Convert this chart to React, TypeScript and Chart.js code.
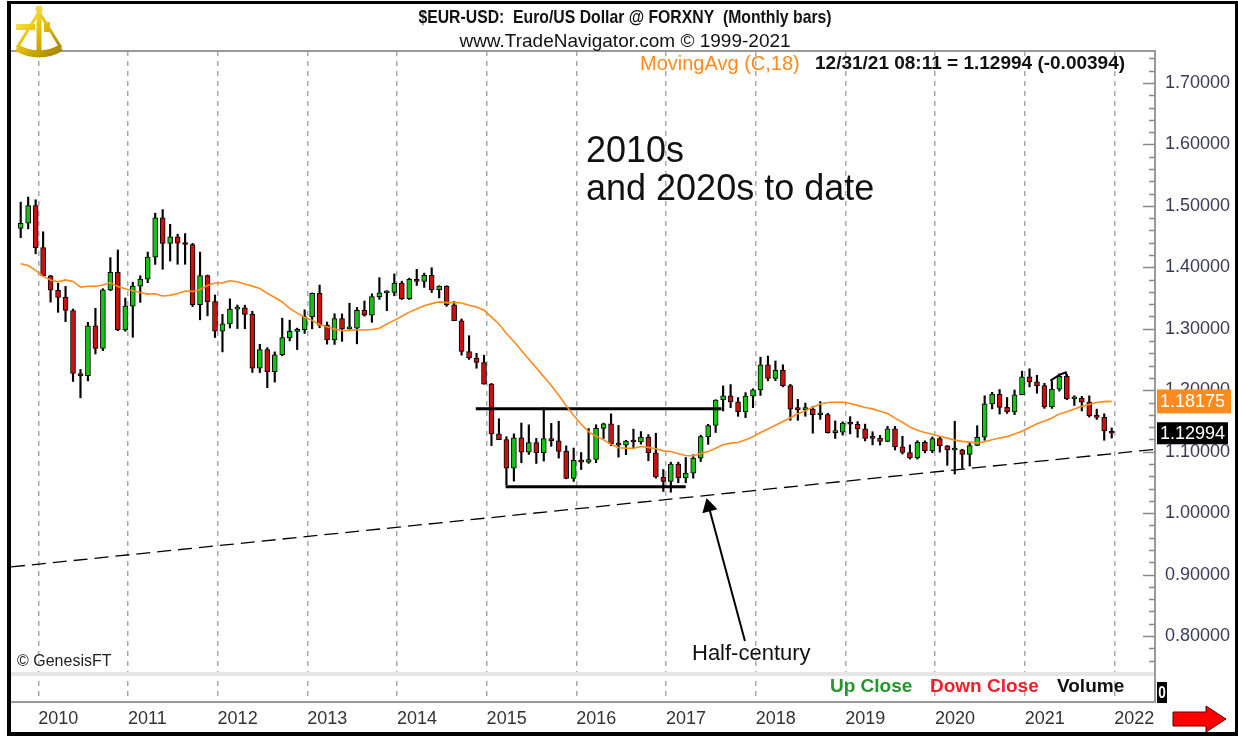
import React, { useEffect, useRef } from 'react';
import { Chart, registerables } from 'chart.js';

Chart.register(...registerables);

// Monthly bars, index 0 = Oct 2009 ... index 146 = Dec 2021
const opens = [
  1.4633, 1.4718, 1.5006,
  1.4321, 1.3862, 1.3627, 1.3510, 1.3298, 1.2272, 1.2236, 1.3049, 1.2679, 1.3632, 1.3920, 1.2981,
  1.3368, 1.3694, 1.3807, 1.4165, 1.4806, 1.4390, 1.4496, 1.4394, 1.4372, 1.3391, 1.3865, 1.3441,
  1.2961, 1.3079, 1.3320, 1.3342, 1.3234, 1.2360, 1.2663, 1.2302, 1.2577, 1.2857, 1.2958, 1.2986,
  1.3193, 1.3577, 1.3059, 1.2819, 1.3166, 1.2999, 1.3009, 1.3300, 1.3223, 1.3524, 1.3583, 1.3592,
  1.3743, 1.3490, 1.3805, 1.3769, 1.3868, 1.3638, 1.3693, 1.3389, 1.3131, 1.2630, 1.2525, 1.2451,
  1.2100, 1.1289, 1.1196, 1.0731, 1.1224, 1.0990, 1.1146, 1.0984, 1.1213, 1.1176, 1.1004, 1.0565,
  1.0859, 1.0831, 1.0873, 1.1379, 1.1452, 1.1130, 1.1106, 1.1174, 1.1157, 1.1237, 1.0982, 1.0587,
  1.0517, 1.0799, 1.0573, 1.0652, 1.0895, 1.1244, 1.1426, 1.1841, 1.1910, 1.1813, 1.1646, 1.1903,
  1.2005, 1.2414, 1.2194, 1.2324, 1.2076, 1.1693, 1.1684, 1.1692, 1.1601, 1.1604, 1.1311, 1.1317,
  1.1467, 1.1446, 1.1372, 1.1217, 1.1216, 1.1168, 1.1373, 1.1077, 1.0987, 1.0898, 1.1152, 1.1017,
  1.1213, 1.1093, 1.1027, 1.1031, 1.0954, 1.1100, 1.1234, 1.1779, 1.1936, 1.1720, 1.1647, 1.1927,
  1.2216, 1.2136, 1.2075, 1.1730, 1.2019, 1.2228, 1.1858, 1.1869, 1.1807, 1.1580, 1.1558, 1.1337,
];
const highs = [
  1.5061, 1.5144, 1.5100,
  1.4579, 1.3870, 1.3739, 1.3690, 1.3321, 1.2338, 1.3105, 1.3334, 1.3652, 1.4158, 1.4283, 1.3500,
  1.3758, 1.3863, 1.4249, 1.4882, 1.4940, 1.4700, 1.4540, 1.4550, 1.4390, 1.4248, 1.3874, 1.3549,
  1.3235, 1.3487, 1.3387, 1.3383, 1.3284, 1.2747, 1.2692, 1.2624, 1.3172, 1.3140, 1.3011, 1.3308,
  1.3583, 1.3711, 1.3110, 1.3244, 1.3243, 1.3416, 1.3346, 1.3452, 1.3569, 1.3832, 1.3620, 1.3893,
  1.3775, 1.3824, 1.3967, 1.3906, 1.3993, 1.3700, 1.3700, 1.3444, 1.3159, 1.2887, 1.2600, 1.2570,
  1.2111, 1.1535, 1.1244, 1.1290, 1.1467, 1.1436, 1.1216, 1.1714, 1.1460, 1.1495, 1.1094, 1.1059,
  1.0986, 1.1376, 1.1438, 1.1464, 1.1616, 1.1427, 1.1185, 1.1366, 1.1327, 1.1278, 1.1300, 1.0710,
  1.0829, 1.0829, 1.0906, 1.0950, 1.1268, 1.1445, 1.1846, 1.2070, 1.2092, 1.1880, 1.1961, 1.2023,
  1.2537, 1.2556, 1.2476, 1.2414, 1.2095, 1.1852, 1.1791, 1.1734, 1.1815, 1.1625, 1.1500, 1.1486,
  1.1570, 1.1489, 1.1448, 1.1324, 1.1265, 1.1412, 1.1412, 1.1250, 1.1109, 1.1179, 1.1176, 1.1240,
  1.1240, 1.1100, 1.1495, 1.1040, 1.1147, 1.1422, 1.1909, 1.1966, 1.2011, 1.1881, 1.2004, 1.2310,
  1.2349, 1.2243, 1.2113, 1.2150, 1.2266, 1.2254, 1.1909, 1.1900, 1.1909, 1.1692, 1.1616, 1.1386,
];
const lows = [
  1.4482, 1.4626, 1.4220,
  1.3855, 1.3435, 1.3268, 1.3116, 1.2143, 1.1876, 1.2153, 1.2589, 1.2645, 1.3620, 1.2969, 1.2960,
  1.2862, 1.3430, 1.3750, 1.4048, 1.3968, 1.4102, 1.4050, 1.4050, 1.3361, 1.3146, 1.3211, 1.2858,
  1.2624, 1.3012, 1.3004, 1.3001, 1.2289, 1.2288, 1.2041, 1.2132, 1.2560, 1.2803, 1.2661, 1.2925,
  1.2998, 1.3017, 1.2750, 1.2745, 1.2796, 1.2993, 1.2755, 1.3205, 1.3105, 1.3479, 1.3295, 1.3537,
  1.3477, 1.3476, 1.3705, 1.3673, 1.3590, 1.3503, 1.3366, 1.3130, 1.2571, 1.2501, 1.2358, 1.2098,
  1.1098, 1.1195, 1.0458, 1.0521, 1.0819, 1.0955, 1.0808, 1.0848, 1.1087, 1.0895, 1.0558, 1.0516,
  1.0710, 1.0810, 1.0822, 1.1216, 1.1098, 1.0911, 1.0952, 1.1046, 1.1122, 1.0852, 1.0569, 1.0352,
  1.0340, 1.0494, 1.0494, 1.0568, 1.0839, 1.1118, 1.1312, 1.1662, 1.1717, 1.1575, 1.1554, 1.1717,
  1.1916, 1.2154, 1.2155, 1.2054, 1.1510, 1.1509, 1.1576, 1.1301, 1.1526, 1.1302, 1.1216, 1.1269,
  1.1289, 1.1234, 1.1176, 1.1110, 1.1107, 1.1160, 1.1027, 1.0962, 1.0879, 1.0879, 1.0981, 1.0982,
  1.0992, 1.0778, 1.0636, 1.0727, 1.0766, 1.1098, 1.1185, 1.1696, 1.1612, 1.1622, 1.1603, 1.1925,
  1.2054, 1.1952, 1.1704, 1.1704, 1.1986, 1.1847, 1.1752, 1.1664, 1.1563, 1.1524, 1.1186, 1.1222,
];
const closes = [
  1.4718, 1.5006, 1.4321,
  1.3862, 1.3627, 1.3510, 1.3298, 1.2272, 1.2236, 1.3049, 1.2679, 1.3632, 1.3920, 1.2981, 1.3368,
  1.3694, 1.3807, 1.4165, 1.4806, 1.4390, 1.4496, 1.4394, 1.4372, 1.3391, 1.3865, 1.3441, 1.2961,
  1.3079, 1.3320, 1.3342, 1.3234, 1.2360, 1.2663, 1.2302, 1.2577, 1.2857, 1.2958, 1.2986, 1.3193,
  1.3577, 1.3059, 1.2819, 1.3166, 1.2999, 1.3009, 1.3300, 1.3223, 1.3524, 1.3583, 1.3592, 1.3743,
  1.3490, 1.3805, 1.3769, 1.3868, 1.3638, 1.3693, 1.3389, 1.3131, 1.2630, 1.2525, 1.2451, 1.2100,
  1.1289, 1.1196, 1.0731, 1.1224, 1.0990, 1.1146, 1.0984, 1.1213, 1.1176, 1.1004, 1.0565, 1.0859,
  1.0831, 1.0873, 1.1379, 1.1452, 1.1130, 1.1106, 1.1174, 1.1157, 1.1237, 1.0982, 1.0587, 1.0517,
  1.0799, 1.0573, 1.0652, 1.0895, 1.1244, 1.1426, 1.1841, 1.1910, 1.1813, 1.1646, 1.1903, 1.2005,
  1.2414, 1.2194, 1.2324, 1.2076, 1.1693, 1.1684, 1.1692, 1.1601, 1.1604, 1.1311, 1.1317, 1.1467,
  1.1446, 1.1372, 1.1217, 1.1216, 1.1168, 1.1373, 1.1077, 1.0987, 1.0898, 1.1152, 1.1017, 1.1213,
  1.1093, 1.1027, 1.1031, 1.0954, 1.1100, 1.1234, 1.1779, 1.1936, 1.1720, 1.1647, 1.1927, 1.2216,
  1.2136, 1.2075, 1.1730, 1.2019, 1.2228, 1.1858, 1.1869, 1.1807, 1.1580, 1.1558, 1.1337, 1.1299,
];
// MovingAvg (C,18) as drawn
const movingAvg = [
  1.4059, 1.4029, 1.3950,
  1.3853, 1.3795, 1.3763, 1.3795, 1.3771, 1.3678, 1.3691, 1.3692, 1.3713, 1.3752, 1.3686, 1.3650,
  1.3619, 1.3590, 1.3564, 1.3569, 1.3534, 1.3544, 1.3574, 1.3615, 1.3608, 1.3640, 1.3705, 1.3745,
  1.3747, 1.3782, 1.3766, 1.3728, 1.3694, 1.3654, 1.3577, 1.3509, 1.3436, 1.3333, 1.3255, 1.3183,
  1.3138, 1.3065, 1.3033, 1.2994, 1.2970, 1.2972, 1.2984, 1.2979, 1.2989, 1.3009, 1.3077, 1.3137,
  1.3203, 1.3271, 1.3322, 1.3373, 1.3409, 1.3437, 1.3426, 1.3430, 1.3420, 1.3384, 1.3354, 1.3303,
  1.3191, 1.3079, 1.2924, 1.2792, 1.2648, 1.2504, 1.2364, 1.2220, 1.2076, 1.1917, 1.1746, 1.1589,
  1.1447, 1.1322, 1.1252, 1.1192, 1.1119, 1.1064, 1.1057, 1.1055, 1.1083, 1.1070, 1.1048, 1.1013,
  1.1002, 1.0967, 1.0938, 1.0932, 1.0969, 1.1001, 1.1057, 1.1114, 1.1139, 1.1149, 1.1192, 1.1242,
  1.1311, 1.1369, 1.1429, 1.1490, 1.1551, 1.1616, 1.1666, 1.1723, 1.1776, 1.1799, 1.1803, 1.1805,
  1.1783, 1.1753, 1.1720, 1.1696, 1.1656, 1.1620, 1.1546, 1.1479, 1.1400, 1.1349, 1.1311, 1.1285,
  1.1252, 1.1220, 1.1188, 1.1168, 1.1156, 1.1143, 1.1162, 1.1193, 1.1221, 1.1245, 1.1287, 1.1334,
  1.1393, 1.1453, 1.1499, 1.1547, 1.1615, 1.1651, 1.1694, 1.1737, 1.1768, 1.1801, 1.1814, 1.1818,
];

const yearLabels = ['2010', '2011', '2012', '2013', '2014', '2015', '2016', '2017', '2018', '2019', '2020', '2021', '2022'];
const yearBoundaries = [2.35, 14.35, 26.35, 38.35, 50.35, 62.35, 74.35, 86.35, 98.35, 110.35, 122.35, 134.35, 146.35];
const priceTicks = [0.8, 0.9, 1.0, 1.1, 1.2, 1.3, 1.4, 1.5, 1.6, 1.7];

// drawn annotations (bar index, price)
const upperBox = [{ x: 60.9, y: 1.17 }, { x: 93.8, y: 1.17 }];
const lowerBox = [{ x: 64.9, y: 1.043 }, { x: 89.0, y: 1.043 }];
const halfCenturyLine = [{ x: -1.3, y: 0.9124 }, { x: 151.8, y: 1.1038 }];
const arrowLine = [{ x: 96.92, y: 0.7918 }, { x: 92.08, y: 1.0102 }];
const hookLine = [{ x: 137.8, y: 1.2155 }, { x: 139.0, y: 1.225 }, { x: 139.85, y: 1.229 }, { x: 140.0, y: 1.223 }];

const lastMA = 1.18175;
const lastClose = 1.12994;

const FONT = "'Liberation Sans', Arial, Helvetica, sans-serif";
const UP = '#14c414';
const DOWN = '#cc1010';
const ORANGE = '#ff8a1e';

const X_MIN = -1.2981;
const X_MAX = 151.795;
const Y_MAX = 1.75208;
const Y_MIN = 0.69258;

function text(ctx: CanvasRenderingContext2D, s: string, x: number, y: number, font: string, color: string, align: CanvasTextAlign = 'left', sx = 1) {
  ctx.save();
  ctx.font = font;
  ctx.fillStyle = color;
  ctx.textBaseline = 'middle';
  ctx.textAlign = align;
  ctx.translate(x, y);
  ctx.scale(sx, 1);
  ctx.fillText(s, 0, 0);
  ctx.restore();
}

function drawLogo(ctx: CanvasRenderingContext2D) {
  ctx.save();
  const g = ctx.createLinearGradient(15, 6, 62, 58);
  g.addColorStop(0, '#fff4a0');
  g.addColorStop(0.45, '#e8c300');
  g.addColorStop(1, '#9c7a00');
  ctx.strokeStyle = g;
  ctx.fillStyle = g;
  const cx = 39, cy = 12, r = 42, a = 0.55;
  ctx.lineWidth = 7;
  ctx.beginPath();
  ctx.arc(cx, cy, r, Math.PI / 2 - a, Math.PI / 2 + a);
  ctx.stroke();
  ctx.lineWidth = 3;
  ctx.beginPath();
  ctx.moveTo(cx, cy);
  ctx.lineTo(cx + r * Math.cos(Math.PI / 2 - a), cy + r * Math.sin(Math.PI / 2 - a));
  ctx.moveTo(cx, cy);
  ctx.lineTo(cx + r * Math.cos(Math.PI / 2 + a), cy + r * Math.sin(Math.PI / 2 + a));
  ctx.stroke();
  ctx.lineWidth = 5;
  ctx.beginPath();
  ctx.moveTo(cx, 9);
  ctx.lineTo(cx, 56);
  ctx.stroke();
  ctx.beginPath();
  ctx.arc(cx, 9, 3.5, 0, Math.PI * 2);
  ctx.fill();
  ctx.fillRect(16, 24, 19, 6);
  ctx.fillRect(44, 22, 6, 10);
  ctx.restore();
}

const overlayPlugin = {
  id: 'tnOverlay',
  afterDraw(chart: any) {
    const { ctx } = chart;
    const ys = chart.scales.y;
    const area = chart.chartArea;
    ctx.save();

    // volume pane separator
    ctx.fillStyle = '#e6e6e6';
    ctx.fillRect(area.left, 672, area.right - area.left, 4);

    // pane frame
    ctx.strokeStyle = '#9a9a9a';
    ctx.lineWidth = 2;
    ctx.beginPath();
    ctx.moveTo(area.left, area.top);
    ctx.lineTo(area.right, area.top);
    ctx.lineTo(area.right, area.bottom);
    ctx.lineTo(area.left, area.bottom);
    ctx.stroke();

    // price axis tick marks
    ctx.strokeStyle = '#8a8a8a';
    ctx.lineWidth = 1.5;
    for (let k = 38; k <= 87; k++) {
      const v = k * 0.02;
      const py = Math.round(ys.getPixelForValue(v)) + 0.5;
      const len = k % 5 === 0 ? 12 : 6;
      ctx.beginPath();
      ctx.moveTo(area.right - len, py);
      ctx.lineTo(area.right, py);
      ctx.stroke();
    }

    // header texts
    text(ctx, '$EUR-USD:  Euro/US Dollar @ FORXNY  (Monthly bars)', 625, 18, `bold 19px ${FONT}`, '#111', 'center', 0.83);
    text(ctx, 'www.TradeNavigator.com \u00A9 1999-2021', 625, 42, `19px ${FONT}`, '#111', 'center');
    text(ctx, 'MovingAvg (C,18)', 640, 64, `20px ${FONT}`, ORANGE, 'left');
    text(ctx, '12/31/21 08:11 = 1.12994 (-0.00394)', 815, 64, `bold 19px ${FONT}`, '#111', 'left');

    // annotations
    text(ctx, '2010s', 586, 152, `36px ${FONT}`, '#111', 'left');
    text(ctx, 'and 2020s to date', 586, 190, `36px ${FONT}`, '#111', 'left');
    text(ctx, 'Half-century', 692, 654, `22px ${FONT}`, '#111', 'left');
    text(ctx, '\u00A9 GenesisFT', 17, 662, `16px ${FONT}`, '#222', 'left');

    // volume pane legend
    text(ctx, 'Up Close', 830, 687, `bold 19px ${FONT}`, '#22962a', 'left');
    text(ctx, 'Down Close', 930, 687, `bold 19px ${FONT}`, '#f0202a', 'left');
    text(ctx, 'Volume', 1057, 687, `bold 19px ${FONT}`, '#111', 'left');
    ctx.fillStyle = '#000';
    ctx.fillRect(1157, 682, 10, 21);
    text(ctx, '0', 1162, 693, `bold 17px ${FONT}`, '#fff', 'center', 0.8);

    // value badges
    const maY = ys.getPixelForValue(lastMA);
    ctx.fillStyle = ORANGE;
    ctx.fillRect(1157, maY - 12, 74, 24);
    text(ctx, lastMA.toFixed(5), 1160, maY + 1, `18px ${FONT}`, '#fff', 'left');
    const cY = ys.getPixelForValue(lastClose);
    ctx.fillStyle = '#000';
    ctx.fillRect(1157, cY - 11, 71, 22);
    text(ctx, lastClose.toFixed(5), 1160, cY + 1, `18px ${FONT}`, '#fff', 'left');

    // red arrow
    ctx.fillStyle = '#ff0000';
    ctx.strokeStyle = '#5a0000';
    ctx.lineWidth = 1;
    ctx.beginPath();
    ctx.moveTo(1173, 712);
    ctx.lineTo(1206, 712);
    ctx.lineTo(1206, 706);
    ctx.lineTo(1226, 719);
    ctx.lineTo(1206, 732);
    ctx.lineTo(1206, 726);
    ctx.lineTo(1173, 726);
    ctx.closePath();
    ctx.fill();
    ctx.stroke();

    // outer frame
    ctx.fillStyle = '#000';
    ctx.fillRect(7, 1, 4, 735);
    ctx.fillRect(7, 1, 1231, 3);
    ctx.fillRect(1235, 1, 3, 735);
    ctx.fillRect(7, 732, 1231, 4);

    drawLogo(ctx);
    ctx.restore();
  },
};

export default function App() {
  const ref = useRef<HTMLCanvasElement | null>(null);

  useEffect(() => {
    document.body.style.margin = '0';
    document.body.style.background = '#fff';
    const canvas = ref.current;
    if (!canvas) return;

    const idx = closes.map((_, i) => i);
    const bodyColors = idx.map((i) => (closes[i] >= opens[i] ? UP : DOWN));

    const chart = new Chart(canvas, {
      type: 'bar',
      data: {
        datasets: [
          {
            type: 'line',
            label: 'MovingAvg',
            data: idx.map((i) => ({ x: i, y: movingAvg[i] })),
            borderColor: ORANGE,
            borderWidth: 1.6,
            pointRadius: 0,
            tension: 0,
            order: 0,
          },
          {
            type: 'line',
            label: 'upper',
            data: upperBox,
            borderColor: '#000',
            borderWidth: 3,
            pointRadius: 0,
            order: 0,
          },
          {
            type: 'line',
            label: 'lower',
            data: lowerBox,
            borderColor: '#000',
            borderWidth: 3,
            pointRadius: 0,
            order: 0,
          },
          {
            type: 'line',
            label: 'halfCentury',
            data: halfCenturyLine,
            borderColor: '#000',
            borderWidth: 1.3,
            borderDash: [14, 7],
            pointRadius: 0,
            order: 0,
          },
          {
            type: 'line',
            label: 'hook',
            data: hookLine,
            borderColor: '#000',
            borderWidth: 2,
            pointRadius: 0,
            order: 0,
          },
          {
            type: 'line',
            label: 'arrow',
            data: arrowLine,
            borderColor: '#000',
            borderWidth: 2,
            pointRadius: [0, 7],
            pointStyle: 'triangle',
            pointRotation: [0, -14.7],
            pointBackgroundColor: '#000',
            pointBorderColor: '#000',
            order: 0,
          },
          {
            type: 'bar',
            label: 'body',
            data: idx.map((i) => ({ x: i, y: [opens[i], closes[i]] })),
            backgroundColor: bodyColors,
            borderColor: '#000',
            borderWidth: 1,
            borderSkipped: false,
            barThickness: 5,
            minBarLength: 2,
            grouped: false,
            order: 1,
          },
          {
            type: 'bar',
            label: 'wick',
            data: idx.map((i) => ({ x: i, y: [lows[i], highs[i]] })),
            backgroundColor: '#000',
            borderWidth: 0,
            barThickness: 1.5,
            grouped: false,
            order: 2,
          },
        ] as any,
      },
      options: {
        responsive: false,
        animation: false,
        devicePixelRatio: 1,
        events: [],
        layout: { padding: { left: 11, top: 51, right: 0, bottom: 0 } },
        plugins: { legend: { display: false }, tooltip: { enabled: false } },
        scales: {
          x: {
            type: 'linear',
            min: X_MIN,
            max: X_MAX,
            offset: false,
            afterBuildTicks: (s: any) => {
              s.ticks = yearBoundaries.map((v) => ({ value: v }));
            },
            afterFit: (s: any) => {
              s.height = 34;
            },
            grid: { offset: false, color: '#a8a8a8', lineWidth: 1.5, drawTicks: false, drawOnChartArea: true },
            border: { display: false, dash: [5, 5] },
            ticks: {
              autoSkip: false,
              maxRotation: 0,
              align: 'start',
              padding: 6,
              color: '#333',
              font: { family: FONT, size: 18 },
              callback: (_v: any, i: number) => yearLabels[i],
            },
          },
          y: {
            type: 'linear',
            position: 'right',
            min: Y_MIN,
            max: Y_MAX,
            afterBuildTicks: (s: any) => {
              s.ticks = priceTicks.map((v) => ({ value: v }));
            },
            afterFit: (s: any) => {
              s.width = 83;
            },
            grid: { drawOnChartArea: false, drawTicks: false },
            border: { display: false },
            ticks: {
              padding: 10,
              color: '#3b3b58',
              font: { family: FONT, size: 18 },
              callback: (v: any) => Number(v).toFixed(5),
            },
          },
        },
      } as any,
      plugins: [overlayPlugin],
    });

    return () => chart.destroy();
  }, []);

  return (
    <div style={{ width: 1238, height: 736, background: '#fff' }}>
      <canvas ref={ref} width={1238} height={736} style={{ display: 'block' }} />
    </div>
  );
}
